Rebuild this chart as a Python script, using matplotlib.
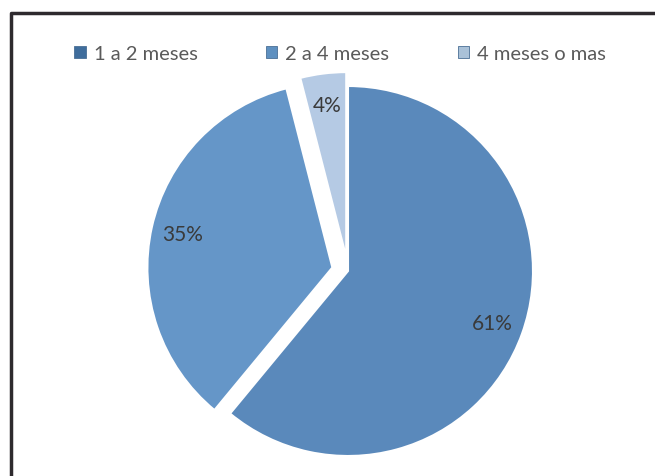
import matplotlib.pyplot as plt
from matplotlib.lines import Line2D

labels = ['1 a 2 meses', '2 a 4 meses', '4 meses o mas']
values = [61, 35, 4]
colors = ['#5a89bb', '#6596c8', '#b5cae4']
explode = [0, 16, 14]

plt.rcParams['font.family'] = ['Lato', 'DejaVu Sans']

W, H = 655, 477
fig = plt.figure(figsize=(W / 100, H / 100), dpi=100)
ax = fig.add_axes([0, 0, 1, 1])
ax.axis('off')

wedges, texts, autotexts = ax.pie(
    values, colors=colors, startangle=90, counterclock=False,
    explode=explode, center=(348, H - 272), radius=185,
    autopct='%d%%', pctdistance=0.83,
    wedgeprops=dict(edgecolor='white', linewidth=1.5),
    textprops=dict(color='#3a3a3a', fontsize=15))
ax.set_xlim(0, W)
ax.set_ylim(0, H)
ax.set_aspect('equal')

# frame around the chart
ax.add_line(Line2D([11, 11, W], [0, H - 14, H - 14], color='#2e2a2e', lw=2.5))

handles = [plt.Rectangle((0, 0), 1, 1, facecolor=c, edgecolor='#4a6f95', lw=0.6)
           for c in ['#3f6d9c', '#5e90c0', '#a9c1d8']]
fig.legend(handles, labels, loc='center', bbox_to_anchor=(340 / W, 1 - 55 / H),
           ncol=3, frameon=False, fontsize=14.5, labelcolor='#5a5a5a',
           handlelength=0.55, handleheight=0.55, handletextpad=0.4, columnspacing=3.4)

fig.savefig('out.png', dpi=100)
